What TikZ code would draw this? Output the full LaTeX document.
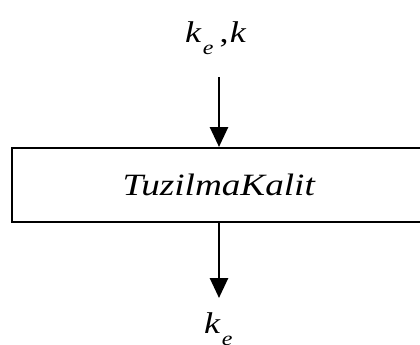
\documentclass[tikz,border=0pt]{standalone}
\usepackage{fontspec}
\setmainfont{Liberation Serif}
\usetikzlibrary{arrows.meta}
\newcommand\mykesub{\textit{k}\kern1pt\raisebox{-12pt}{\fontsize{20}{20}\selectfont\textit{e}}}
\newcommand\wide[1]{\scalebox{1.2}[1]{#1}}
\begin{document}
\begin{tikzpicture}[x=1pt,y=-1pt,
  lbl/.style={font=\fontsize{30}{36}\selectfont, inner sep=0pt},
  blockbox/.style={draw, line width=2.3pt, minimum width=418pt, minimum height=74pt, inner sep=0pt, font=\fontsize{31}{36}\selectfont\itshape},
  flow/.style={line width=2.7pt, -{Triangle[length=20pt,width=18pt]}}]
\useasboundingbox (0,0) rectangle (420,345);
\clip (0,0) rectangle (420,345);
\node[blockbox, anchor=north west] (box) at (11,147) {\wide{\hspace*{-4pt}TuzilmaKalit}};
\node[lbl, anchor=base west] (toplabel) at (185,43) {\wide{\mykesub\kern5pt,\kern1pt\textit{k}}};
\node[lbl, anchor=base west] (botlabel) at (204,333) {\wide{\mykesub}};
\coordinate (topstart) at (219,77);
\coordinate (botend) at (219,298);
\draw[flow] (topstart) -- (topstart |- box.north);
\draw[flow] (botend |- box.south) -- (botend);
\end{tikzpicture}
\end{document}
